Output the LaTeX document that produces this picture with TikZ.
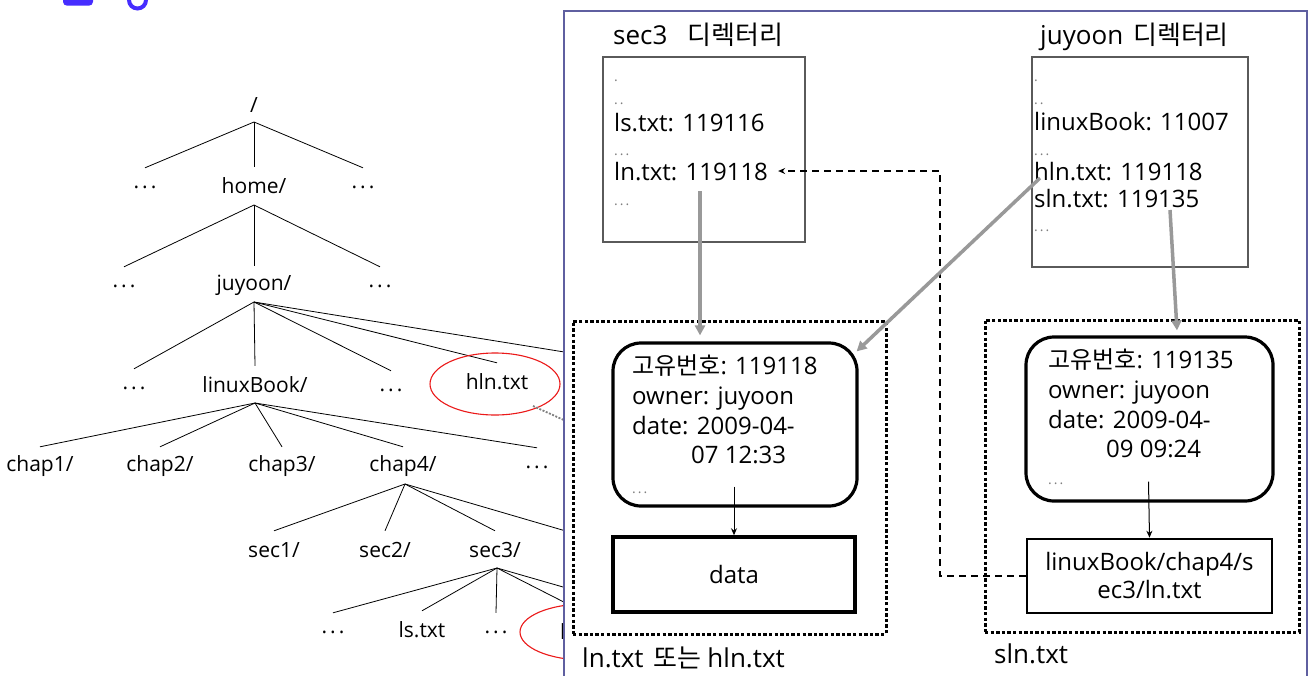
\documentclass[tikz,border=0pt]{standalone}
\usepackage{fontspec}
\setmainfont{Open Sans}
\newfontfamily\kr{Noto Sans CJK KR}
\usetikzlibrary{arrows.meta,calc}
\definecolor{panelc}{RGB}{95,95,160}
\definecolor{arrgray}{RGB}{153,153,153}
\definecolor{titleblue}{RGB}{70,45,255}
\definecolor{boxgray}{RGB}{90,90,90}
\definecolor{ellred}{RGB}{235,25,25}
\newcommand\tdots{.\hspace{3pt}.\hspace{3pt}.}
\newcommand\sdots{.\hspace{2pt}.\hspace{2pt}.}
\begin{document}
\begin{tikzpicture}[x=1pt,y=-1pt,
 tree/.style={font=\fontsize{21}{23}\selectfont, inner sep=0pt, minimum height=38pt},
 treeline/.style={line width=0.8pt},
 ent/.style={font=\fontsize{24}{26}\selectfont, inner sep=0pt, anchor=base west},
 ttl/.style={font=\fontsize{26}{28}\selectfont, inner sep=0pt, anchor=base west},
 sm/.style={font=\fontsize{14}{14}\selectfont, text=gray, inner sep=0pt, anchor=base west},
 dirbox/.style={draw=boxgray, line width=1.2pt, inner sep=0pt},
 inode/.style={draw, line width=3.2pt, rounded corners=28pt, inner sep=0pt},
 blk/.style={draw, font=\fontsize{24}{28}\selectfont, align=center, inner sep=0pt},
 cont/.style={draw, line width=3pt, dash pattern=on 3.4pt off 2.2pt, inner sep=0pt},
 grayarr/.style={draw=arrgray, line width=3.5pt, -{Triangle[length=10pt,width=10pt]}},
 thinarr/.style={line width=1pt, -{Stealth[length=7pt,width=6pt]}},
 dashedarr/.style={dashed, dash pattern=on 7pt off 5pt, line width=1.4pt, -{Stealth[length=7pt,width=6pt]}},
 ell/.style={draw=ellred, line width=1.1pt},
]
\useasboundingbox (0,0) rectangle (1311,675);
\fill[white] (0,0) rectangle (1311,675);

% cut-off title fragments
\fill[titleblue, rounded corners=4pt] (63,-12) rectangle (93,5.7);
\draw[titleblue, line width=4pt] (137.5,0) circle [radius=8.5pt];

% ---------------- tree ----------------
\node[tree] (root) at (254,105) {/};
\coordinate (a1) at (254,122);
\node[tree] (d2l) at (145,187) {\tdots};
\node[tree] (home) at (254,186) {home/};
\node[tree] (d2r) at (363,187) {\tdots};
\coordinate (a2) at (254,205);
\node[tree] (d3l) at (124,286) {\tdots};
\node[tree] (juy) at (254,285) {juyoon/};
\node[tree] (d3r) at (380,286) {\tdots};
\coordinate (a3) at (254,302);
\node[tree] (d4l) at (134,388) {\tdots};
\node[tree] (lnx) at (255,385) {linuxBook/};
\node[tree] (d4m) at (391,390) {\tdots};
\node[tree] (hln) at (497,382) {hln.txt};
\coordinate (j5) at (645,365);
\coordinate (a4) at (255,403);
\node[tree] (ch1) at (40,466) {chap1/};
\node[tree] (ch2) at (160,466) {chap2/};
\node[tree] (ch3) at (282,466) {chap3/};
\node[tree] (ch4) at (403,466) {chap4/};
\node[tree] (d5) at (537,467) {\tdots};
\coordinate (a5) at (405,484);
\node[tree] (s1) at (274,550) {sec1/};
\node[tree] (s2) at (385,550) {sec2/};
\node[tree] (s3) at (495,550) {sec3/};
\coordinate (c5) at (600,541);
\coordinate (a6) at (497,568);
\node[tree] (d7a) at (333,632) {\tdots};
\node[tree] (lsT) at (422,630) {ls.txt};
\node[tree] (d7b) at (496,632) {\tdots};
\node[tree] (lnT) at (585,632) {ln.txt};
\coordinate (s5) at (650,612);

\foreach \c in {d2l,home,d2r} \draw[treeline] (a1) -- (\c.north);
\foreach \c in {d3l,juy,d3r} \draw[treeline] (a2) -- (\c.north);
\foreach \c in {d4l,lnx,d4m,hln} \draw[treeline] (a3) -- (\c.north);
\draw[treeline] (a3) -- (j5);
\foreach \c in {ch1,ch2,ch3,ch4,d5} \draw[treeline] (a4) -- (\c.north);
\foreach \c in {s1,s2,s3} \draw[treeline] (a5) -- (\c.north);
\draw[treeline] (a5) -- (c5);
\foreach \c in {d7a,lsT,d7b,lnT} \draw[treeline] (a6) -- (\c.north);
\draw[treeline] (a6) -- (s5);

\draw[ell] ($(hln.center)+(-2,2)$) ellipse [x radius=65pt, y radius=31pt];
\draw[ell] (lnT.center) ellipse [x radius=65pt, y radius=28pt];
\coordinate (hlnend) at (566,421);
\draw[draw=gray, line width=1.8pt, dash pattern=on 2pt off 1.5pt] ($(hln.center)+(36,24)$) -- (hlnend);

% ---------------- panel ----------------
\draw[panelc, line width=1.5pt, fill=white] (564,11) rectangle (1307,720);

% directory boxes
\node[ttl] (t1) at (613,44) {sec3\hspace{20pt}{\kr 디렉터리}};
\node[ttl] (t2) at (1040,44) {juyoon\hspace{10pt}{\kr 디렉터리}};
\node[dirbox, minimum width=202pt, minimum height=185pt] (dir1) at (704,149.5) {};
\node[dirbox, minimum width=216pt, minimum height=210pt] (dir2) at (1140,162) {};

\node[sm] (e1a) at (614,81) {.};
\node[sm] (e1b) at (614,104) {.\hspace{2pt}.};
\node[ent] (lsE) at (614,131) {ls.txt: 119116};
\node[sm] (e1c) at (614,155) {\sdots};
\node[ent] (lnE) at (614,180) {ln.txt: 119118};
\node[sm] (e1d) at (614,205) {\sdots};

\node[sm] (e2a) at (1034,81) {.};
\node[sm] (e2b) at (1034,104) {.\hspace{2pt}.};
\node[ent] (lbE) at (1034,130) {linuxBook: 11007};
\node[sm] (e2c) at (1034,155) {\sdots};
\node[ent] (hlnE) at (1034,180) {hln.txt: 119118};
\node[ent] (slnE) at (1034,207) {sln.txt: 119135};
\node[sm] (e2d) at (1034,231) {\sdots};

% containers
\node[cont, minimum width=313pt, minimum height=313pt] (c1) at (729.5,477.5) {};
\node[cont, minimum width=314pt, minimum height=312pt] (c2) at (1142,476) {};
\node[ttl] (c1l) at (582,667) {ln.txt\hspace{10pt}{\kr 또는}\hspace{6pt}hln.txt};
\node[ttl] (c2l) at (994,663) {sln.txt};

% inode 1
\node[inode, minimum width=244pt, minimum height=163pt] (inode1) at (735,424.5) {};
\node[ent] (i1a) at (632,374) {{\kr 고유번호}: 119118};
\node[ent] (i1b) at (632,404) {owner: juyoon};
\node[ent] (i1c) at (632,434) {date: 2009-04-};
\node[ent] (i1d) at (691,463) {07 12:33};
\node[sm] (i1e) at (632,493) {\sdots};
\node[blk, line width=3.5pt, minimum width=242pt, minimum height=75pt] (data) at (734,574.5) {data};

% inode 2
\node[inode, minimum width=247pt, minimum height=164pt] (inode2) at (1149.5,419) {};
\node[ent] (i2a) at (1048,368) {{\kr 고유번호}: 119135};
\node[ent] (i2b) at (1048,398) {owner: juyoon};
\node[ent] (i2c) at (1048,428) {date: 2009-04-};
\node[ent] (i2d) at (1106,457) {09 09:24};
\node[sm] (i2e) at (1048,484) {\sdots};
\node[blk, line width=2.6pt, minimum width=245pt, minimum height=74pt] (link) at (1149.5,576) {linuxBook/chap4/s\\ec3/ln.txt};

% connectors
\draw[thinarr] ($(inode1.south)+(-1,-21)$) -- (data.north);
\draw[thinarr] ($(inode2.south)+(-1,-21)$) -- (link.north);
\coordinate (dcorner) at (940,0);
\draw[dashedarr] (link.west) -- (link.west -| dcorner) |- ($(lnE.base east)+(10,-9)$);
\draw[grayarr] ($(lnE.base west)+(86,11)$) -- ($(inode1.north)+(-35,-6)$);
\draw[grayarr] ($(hlnE.base west)+(6,-2)$) -- ($(inode1.north east)+(-2,10)$);
\draw[grayarr] ($(slnE.base west)+(136,3)$) -- ($(inode2.north)+(27.5,-5)$);
\end{tikzpicture}
\end{document}
